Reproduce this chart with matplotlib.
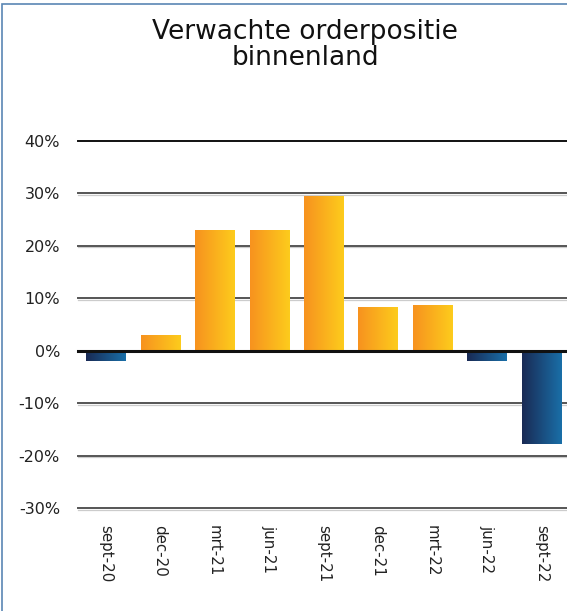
import numpy as np
import matplotlib.pyplot as plt
from matplotlib.colors import LinearSegmentedColormap
from matplotlib.patches import Rectangle

# data
periods = ["sept-20", "dec-20", "mrt-21", "jun-21", "sept-21",
           "dec-21", "mrt-22", "jun-22", "sept-22"]
values = [-2.0, 3.0, 22.9, 22.9, 29.4, 8.3, 8.7, -2.0, -17.7]
y_ticks = [-30, -20, -10, 0, 10, 20, 30, 40]

W, H = 567, 611
fig = plt.figure(figsize=(W / 100, H / 100), dpi=100)

# axes box in pixels: left 78, right 567, 40% at y=141, -30% at y=508
ax = fig.add_axes([78 / W, 1 - 508 / H, (567 - 78) / W, (508 - 141) / H])
for s in ax.spines.values():
    s.set_visible(False)

pos_cmap = LinearSegmentedColormap.from_list("pos", ["#F7921F", "#FDCC1C"])
neg_cmap = LinearSegmentedColormap.from_list("neg", ["#192A54", "#1A6FA8"])
grad = np.linspace(0, 1, 256).reshape(1, -1)

# gridlines (behind the bars)
for t in y_ticks:
    if t in (0, 40):
        continue
    ax.axhline(t, color="#555555", lw=1.4, zorder=0.5, clip_on=False)
    ax.axhline(t - 0.3, color="#cccccc", lw=0.9, zorder=0.4, clip_on=False)
ax.axhline(40, color="#111111", lw=1.4, zorder=0.6, clip_on=False)

width = 0.716
for i, v in enumerate(values):
    cmap = pos_cmap if v >= 0 else neg_cmap
    x0, x1 = i - width / 2, i + width / 2
    ax.imshow(grad, cmap=cmap, extent=[x0, x1, min(0, v), max(0, v)],
              aspect="auto", zorder=2, interpolation="bilinear")

ax.axhline(0, color="#111111", lw=2.2, zorder=3, clip_on=False)

ax.set_xlim(-0.505, 8.468)
ax.set_ylim(-30, 40)

ax.set_yticks(y_ticks)
ax.set_yticklabels([f"{t}%" for t in y_ticks], fontsize=11.5, color="#222222")
ax.tick_params(axis="y", length=0, pad=13)

ax.set_xticks(range(len(periods)))
ax.set_xticklabels(periods, rotation=-90, fontsize=10.8, color="#222222",
                   ha="center", va="top")
ax.tick_params(axis="x", length=0, pad=12)

fig.text(305 / W, 1 - 19 / H, "Verwachte orderpositie\nbinnenland",
         ha="center", va="top", fontsize=19, color="#111111",
         linespacing=1.0)

# outer frame (only left and top visible in the crop)
fig.patches.append(Rectangle((1.5 / W, -0.1), 1.2, 1 - 3.5 / H + 0.1,
                             transform=fig.transFigure, fill=False,
                             edgecolor="#5A86B4", lw=1.2))

fig.savefig("out.png", dpi=100)
